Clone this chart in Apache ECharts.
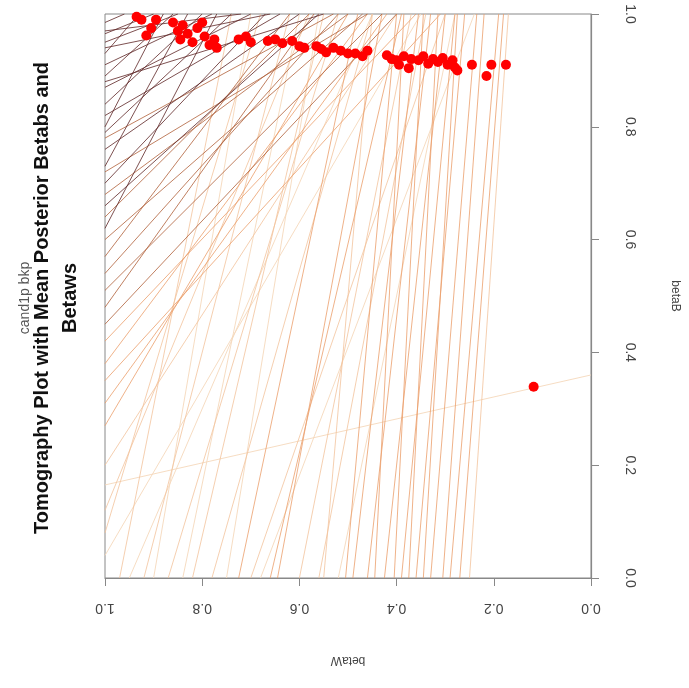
<!DOCTYPE html>
<html>
<head>
<meta charset="utf-8">
<script src="https://cdn.jsdelivr.net/npm/echarts@6/dist/echarts.min.js"></script>
<style>
  html, body { margin: 0; padding: 0; background: #fff; }
  #main { width: 689px; height: 688px; }
</style>
</head>
<body>
<div id="main"></div>
<script>
// tomography lines, each [betaW1, betaB1, betaW2, betaB2], grouped by shade
var darkLines = [
  [1, 0.985, 0.96, 1], [1, 0.965, 0.90, 1], [1, 0.95, 0.85, 1], [1, 0.93, 0.93, 1],
  [1, 0.91, 0.78, 1], [1, 0.89, 0.86, 1], [1, 0.87, 0.70, 1], [1, 0.84, 0.80, 1],
  [1, 0.82, 0.64, 1], [1, 0.79, 0.74, 1], [1, 0.76, 0.60, 1], [1, 0.73, 0.83, 1],
  [1, 0.70, 0.67, 1], [1, 0.66, 0.56, 1], [1, 0.62, 0.77, 1], [1, 0.94, 0.66, 1],
  [1, 0.88, 0.55, 1], [1, 0.97, 0.72, 1], [1, 0.80, 0.88, 1]
];
var brownLines = [
  [1, 0.68, 0.50, 1], [1, 0.64, 0.58, 1], [1, 0.60, 0.47, 1], [1, 0.57, 0.62, 1],
  [1, 0.54, 0.52, 1], [1, 0.51, 0.43, 1], [1, 0.48, 0.57, 1], [1, 0.45, 0.40, 1],
  [1, 0.72, 0.46, 1], [1, 0.78, 0.53, 1]
];
var orangeLines = [
  [1, 0.42, 0.36, 1], [1, 0.38, 0.46, 1], [1, 0.35, 0.31, 1], [1, 0.31, 0.42, 1],
  [1, 0.27, 0.50, 1],
  [0.505, 0, 0.40, 1], [0.49, 0, 0.355, 1], [0.46, 0, 0.33, 1], [0.445, 0, 0.385, 1],
  [0.425, 0, 0.30, 1], [0.405, 0, 0.345, 1], [0.39, 0, 0.28, 1], [0.375, 0, 0.315, 1],
  [0.36, 0, 0.26, 1], [0.345, 0, 0.275, 1], [0.33, 0, 0.235, 1], [0.305, 0, 0.22, 1],
  [0.29, 0, 0.19, 1], [0.27, 0, 0.18, 1], [0.645, 0, 0.43, 1], [0.66, 0, 0.39, 1],
  [0.725, 0, 0.48, 1]
];
var lightLines = [
  [0.25, 0, 0.17, 1], [0.56, 0, 0.34, 1], [0.60, 0, 0.37, 1], [0.70, 0, 0.30, 1],
  [0.78, 0, 0.45, 1], [0.82, 0, 0.55, 1], [0.87, 0, 0.52, 1], [0.92, 0, 0.62, 1],
  [1, 0.12, 0.58, 1], [1, 0.20, 0.40, 1], [1, 0.08, 0.68, 1], [0.97, 0, 0.74, 1],
  [0.55, 0, 0.45, 1]
];
var paleLines = [
  [1, 0.165, 0, 0.36], [0.90, 0, 0.70, 1], [0.84, 0, 0.60, 1], [0.75, 0, 0.56, 1],
  [0.95, 0, 0.45, 1], [1, 0.04, 0.35, 1], [0.68, 0, 0.24, 1], [0.52, 0, 0.28, 1]
];

// mean posterior [betaW, betaB]
var meanPosterior = [
  [0.935, 0.995], [0.925, 0.990], [0.915, 0.962], [0.905, 0.975], [0.895, 0.99], [0.86, 0.985],
  [0.85, 0.97], [0.845, 0.955], [0.84, 0.98], [0.83, 0.965], [0.82, 0.95], [0.81, 0.975],
  [0.80, 0.985], [0.795, 0.96], [0.785, 0.945], [0.775, 0.955], [0.77, 0.94],
  [0.725, 0.955], [0.71, 0.96], [0.70, 0.95],
  [0.665, 0.952], [0.65, 0.955], [0.635, 0.948],
  [0.615, 0.952], [0.60, 0.943], [0.59, 0.94],
  [0.565, 0.943], [0.555, 0.938], [0.545, 0.932], [0.53, 0.94], [0.515, 0.935], [0.50, 0.93],
  [0.485, 0.93], [0.47, 0.925], [0.46, 0.935],
  [0.42, 0.927], [0.41, 0.92], [0.40, 0.918], [0.395, 0.91], [0.385, 0.925], [0.375, 0.904], [0.37, 0.92],
  [0.355, 0.918], [0.345, 0.925], [0.335, 0.912], [0.325, 0.92], [0.315, 0.915], [0.305, 0.922],
  [0.295, 0.91], [0.285, 0.918], [0.28, 0.905], [0.275, 0.9],
  [0.245, 0.91], [0.215, 0.89], [0.205, 0.91], [0.175, 0.91],
  [0.118, 0.339]
];

function toLines(arr) {
  return arr.map(function (d) {
    return { coords: [[d[0], d[1]], [d[2], d[3]]] };
  });
}

function lineGroup(arr, color, opacity) {
  return {
    type: 'lines',
    coordinateSystem: 'cartesian2d',
    data: toLines(arr),
    silent: true,
    lineStyle: { color: color, width: 1, opacity: opacity, curveness: 0 }
  };
}

var myChart = echarts.init(document.getElementById('main'));

var option = {
  animation: false,
  backgroundColor: '#ffffff',
  grid: {
    left: 105, right: 91, top: 14, bottom: 110,
    show: true, borderColor: '#888', borderWidth: 1
  },
  xAxis: {
    type: 'value', min: 0, max: 1, interval: 0.2, inverse: true,
    position: 'bottom',
    name: 'betaW', nameLocation: 'middle', nameGap: 76, nameRotate: 180,
    nameTextStyle: { color: '#444', fontSize: 12, fontFamily: 'Liberation Sans' },
    axisLine: { show: true, lineStyle: { color: '#888', width: 1.2 } },
    axisTick: { show: true, length: 8, lineStyle: { color: '#888' } },
    axisLabel: {
      rotate: 180, margin: 23, color: '#444', fontSize: 14, fontFamily: 'Liberation Sans',
      formatter: function (v) { return v.toFixed(1); }
    },
    splitLine: { show: false }
  },
  yAxis: {
    type: 'value', min: 0, max: 1, interval: 0.2,
    position: 'right',
    name: 'betaB', nameLocation: 'middle', nameGap: 78, nameRotate: -90,
    nameTextStyle: { color: '#444', fontSize: 12, fontFamily: 'Liberation Sans' },
    axisLine: { show: true, lineStyle: { color: '#888', width: 1.2 } },
    axisTick: { show: true, length: 8, lineStyle: { color: '#888' } },
    axisLabel: {
      rotate: -90, margin: 32, color: '#444', fontSize: 14, fontFamily: 'Liberation Sans',
      formatter: function (v) { return v.toFixed(1); }
    },
    splitLine: { show: false }
  },
  graphic: [
    {
      type: 'text', x: 25, y: 298, rotation: Math.PI / 2,
      style: { text: 'cand1p bkp', font: '14px "Liberation Sans"', fill: '#555',
        textAlign: 'center', textVerticalAlign: 'middle' }
    },
    {
      type: 'text', x: 42, y: 298, rotation: Math.PI / 2,
      style: { text: 'Tomography Plot with Mean Posterior Betabs and', font: 'bold 20px "Liberation Sans"', fill: '#111',
        textAlign: 'center', textVerticalAlign: 'middle' }
    },
    {
      type: 'text', x: 70, y: 298, rotation: Math.PI / 2,
      style: { text: 'Betaws', font: 'bold 20px "Liberation Sans"', fill: '#111',
        textAlign: 'center', textVerticalAlign: 'middle' }
    }
  ],
  series: [
    lineGroup(paleLines, '#f5d8bb', 0.9),
    lineGroup(lightLines, '#f2c39c', 0.8),
    lineGroup(orangeLines, '#eb9f6c', 0.8),
    lineGroup(brownLines, '#b0603a', 0.8),
    lineGroup(darkLines, '#5e2626', 0.8),
    {
      type: 'scatter',
      data: meanPosterior,
      symbol: 'circle',
      symbolSize: 10,
      itemStyle: { color: '#ff0000', opacity: 1 },
      silent: true
    }
  ]
};

myChart.setOption(option);
window.onresize = function () {
  myChart.resize();
};
</script>
</body>
</html>
